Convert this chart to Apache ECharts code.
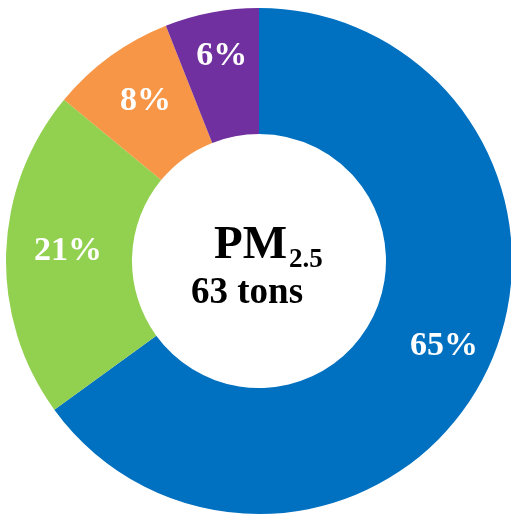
<!DOCTYPE html>
<html>
<head>
<meta charset="utf-8">
<script src="https://cdn.jsdelivr.net/npm/echarts@6/dist/echarts.min.js"></script>
<style>
  html, body { margin: 0; padding: 0; background: #fff; }
  #chart { width: 511px; height: 515px; }
</style>
</head>
<body>
<div id="chart"></div>
<script>
// Source shares of PM2.5 emissions, clockwise from 12 o'clock
const categories = ['Source A', 'Source B', 'Source C', 'Source D'];
const shares = [65, 21, 8, 6];
const colors = ['#0070C0', '#92D050', '#F79646', '#7030A0'];
// small nudges for the percentage labels inside each ring segment
const labelOffsets = [[13, -2], [2, -4], [0, -4], [-1, -15]];

const serif = 'Liberation Serif';

const chart = echarts.init(document.getElementById('chart'), null, { renderer: 'canvas' });

chart.setOption({
  animation: false,
  backgroundColor: '#ffffff',
  series: [{
    type: 'pie',
    center: [259, 261],
    radius: [127, 253],
    startAngle: 90,
    clockwise: true,
    avoidLabelOverlap: false,
    label: {
      show: true,
      position: 'inside',
      formatter: '{c}%',
      color: '#ffffff',
      fontFamily: serif,
      fontWeight: 'bold',
      fontSize: 34
    },
    labelLine: { show: false },
    emphasis: { disabled: true },
    itemStyle: { borderWidth: 0 },
    data: categories.map((name, i) => ({
      name,
      value: shares[i],
      itemStyle: { color: colors[i] },
      label: { offset: labelOffsets[i] }
    }))
  }],
  graphic: [
    {
      type: 'text',
      left: 214, top: 222,
      style: { text: 'PM', font: 'bold 47px "Liberation Serif"', fill: '#000' }
    },
    {
      type: 'text',
      left: 289, top: 247,
      style: { text: '2.5', font: 'bold 27px "Liberation Serif"', fill: '#000' }
    },
    {
      type: 'text',
      left: 191, top: 275,
      style: { text: '63 tons', font: 'bold 37px "Liberation Serif"', fill: '#000' }
    }
  ]
});
</script>
</body>
</html>
